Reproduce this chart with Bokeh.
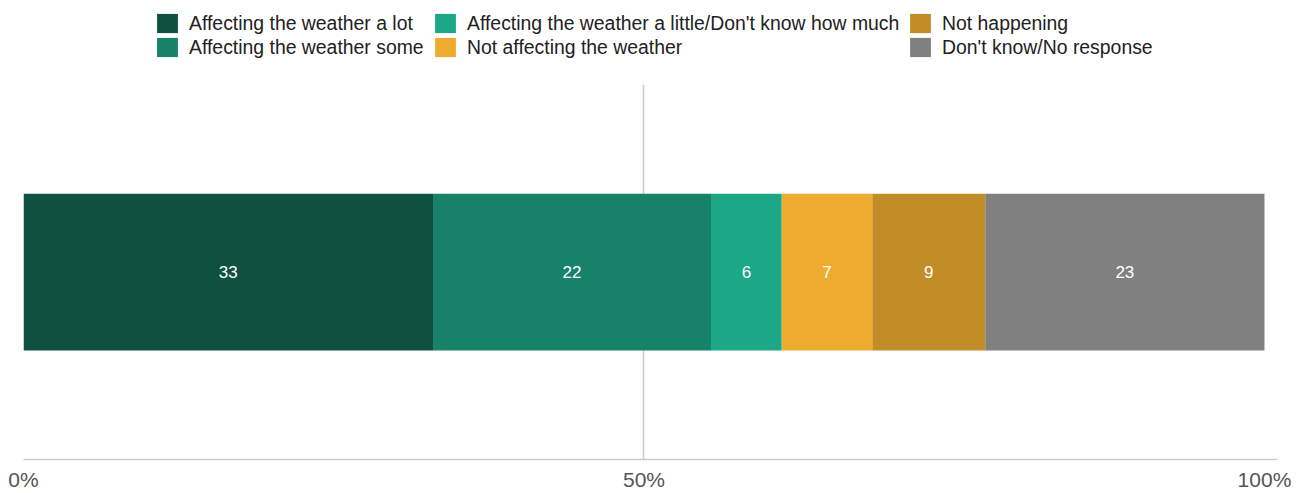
import numpy as np
from bokeh.plotting import figure
from bokeh.layouts import column
from bokeh.core.properties import value
from bokeh.models import (ColumnDataSource, FactorRange, Range1d, FixedTicker, Legend,
                          LegendItem, LabelSet, CustomJSTickFormatter)
from bokeh.embed import file_html
from bokeh.resources import INLINE

# ---- data ----
categories = ["Affecting the weather a lot", "Affecting the weather some",
              "Affecting the weather a little/Don't know how much",
              "Not affecting the weather", "Not happening", "Don't know/No response"]
values = [33.0, 22.4, 5.7, 7.3, 9.1, 22.5]
labels = ["33", "22", "6", "7", "9", "23"]
colors = ["#0e5141", "#17816a", "#1ca887", "#edac2f", "#c28c26", "#808080"]
row = [""]
x_ticks = [0, 50, 100]

FONT = "Liberation Sans"

# ---- main chart ----
p = figure(width=1301, height=409, output_backend="svg", toolbar_location=None,
           y_range=FactorRange(factors=row, range_padding=0),
           x_range=Range1d(0, 101.05),
           min_border_left=23, min_border_right=24, min_border_top=0, min_border_bottom=33)
p.outline_line_color = None

keys = [f"s{i}" for i in range(len(values))]
data = {"row": row}
for k, v in zip(keys, values):
    data[k] = [v]
src = ColumnDataSource(data)
renderers = p.hbar_stack(keys, y="row", height=0.418, color=colors, source=src, line_width=0)

v = np.array(values)
ends = np.cumsum(v)
mids = ends - v / 2
lsrc = ColumnDataSource(dict(x=mids, y=[row[0]] * len(v), text=labels))
p.add_layout(LabelSet(x="x", y="y", text="text", source=lsrc, text_color="white",
                      text_font=value(FONT), text_font_size="17px", text_align="center",
                      text_baseline="middle"))

p.yaxis.visible = False
p.ygrid.visible = False
p.xaxis.ticker = FixedTicker(ticks=x_ticks)
p.xaxis.formatter = CustomJSTickFormatter(code="return tick + '%';")
p.xaxis.major_tick_line_color = None
p.xaxis.minor_tick_line_color = None
p.xaxis.major_tick_out = 0
p.xaxis.major_tick_in = 0
p.xaxis.minor_tick_out = 0
p.xaxis.axis_line_color = "#cccccc"
p.xaxis.axis_line_width = 1.5
p.xaxis.major_label_text_font = FONT
p.xaxis.major_label_text_font_size = "21px"
p.xaxis.major_label_text_color = "#555555"
p.xaxis.major_label_standoff = 8
p.xgrid.ticker = FixedTicker(ticks=[0, 50])
p.xgrid.grid_line_color = "#cccccc"
p.xgrid.grid_line_width = 1.5

# ---- legend strip ----
lg = figure(width=1301, height=84, output_backend="svg", toolbar_location=None,
            x_range=Range1d(0, 1), y_range=Range1d(0, 1),
            min_border_left=0, min_border_right=0, min_border_top=0, min_border_bottom=0)
lg.axis.visible = False
lg.grid.visible = False
lg.outline_line_color = None
# legend key renderers (their single point lies outside the strip's visible range)
swatches = [lg.rect(x=[5], y=[5], width=1, height=1, fill_color=c, line_color=None)
            for c in colors]
items = [LegendItem(label=c, renderers=[r]) for c, r in zip(categories, swatches)]
col_x = [131, 409, 884]
for i, x0 in enumerate(col_x):
    legend = Legend(items=items[2 * i:2 * i + 2], orientation="vertical", location=(x0, 25),
                    glyph_width=26, glyph_height=24, label_standoff=9, spacing=0,
                    padding=0, margin=0, border_line_color=None, background_fill_alpha=0,
                    label_text_font=FONT, label_text_font_size="19.4px",
                    label_text_color="#222222", label_height=21)
    lg.add_layout(legend, "center")

layout = column(lg, p, spacing=0)
open("out.html", "w").write(file_html(layout, INLINE))
